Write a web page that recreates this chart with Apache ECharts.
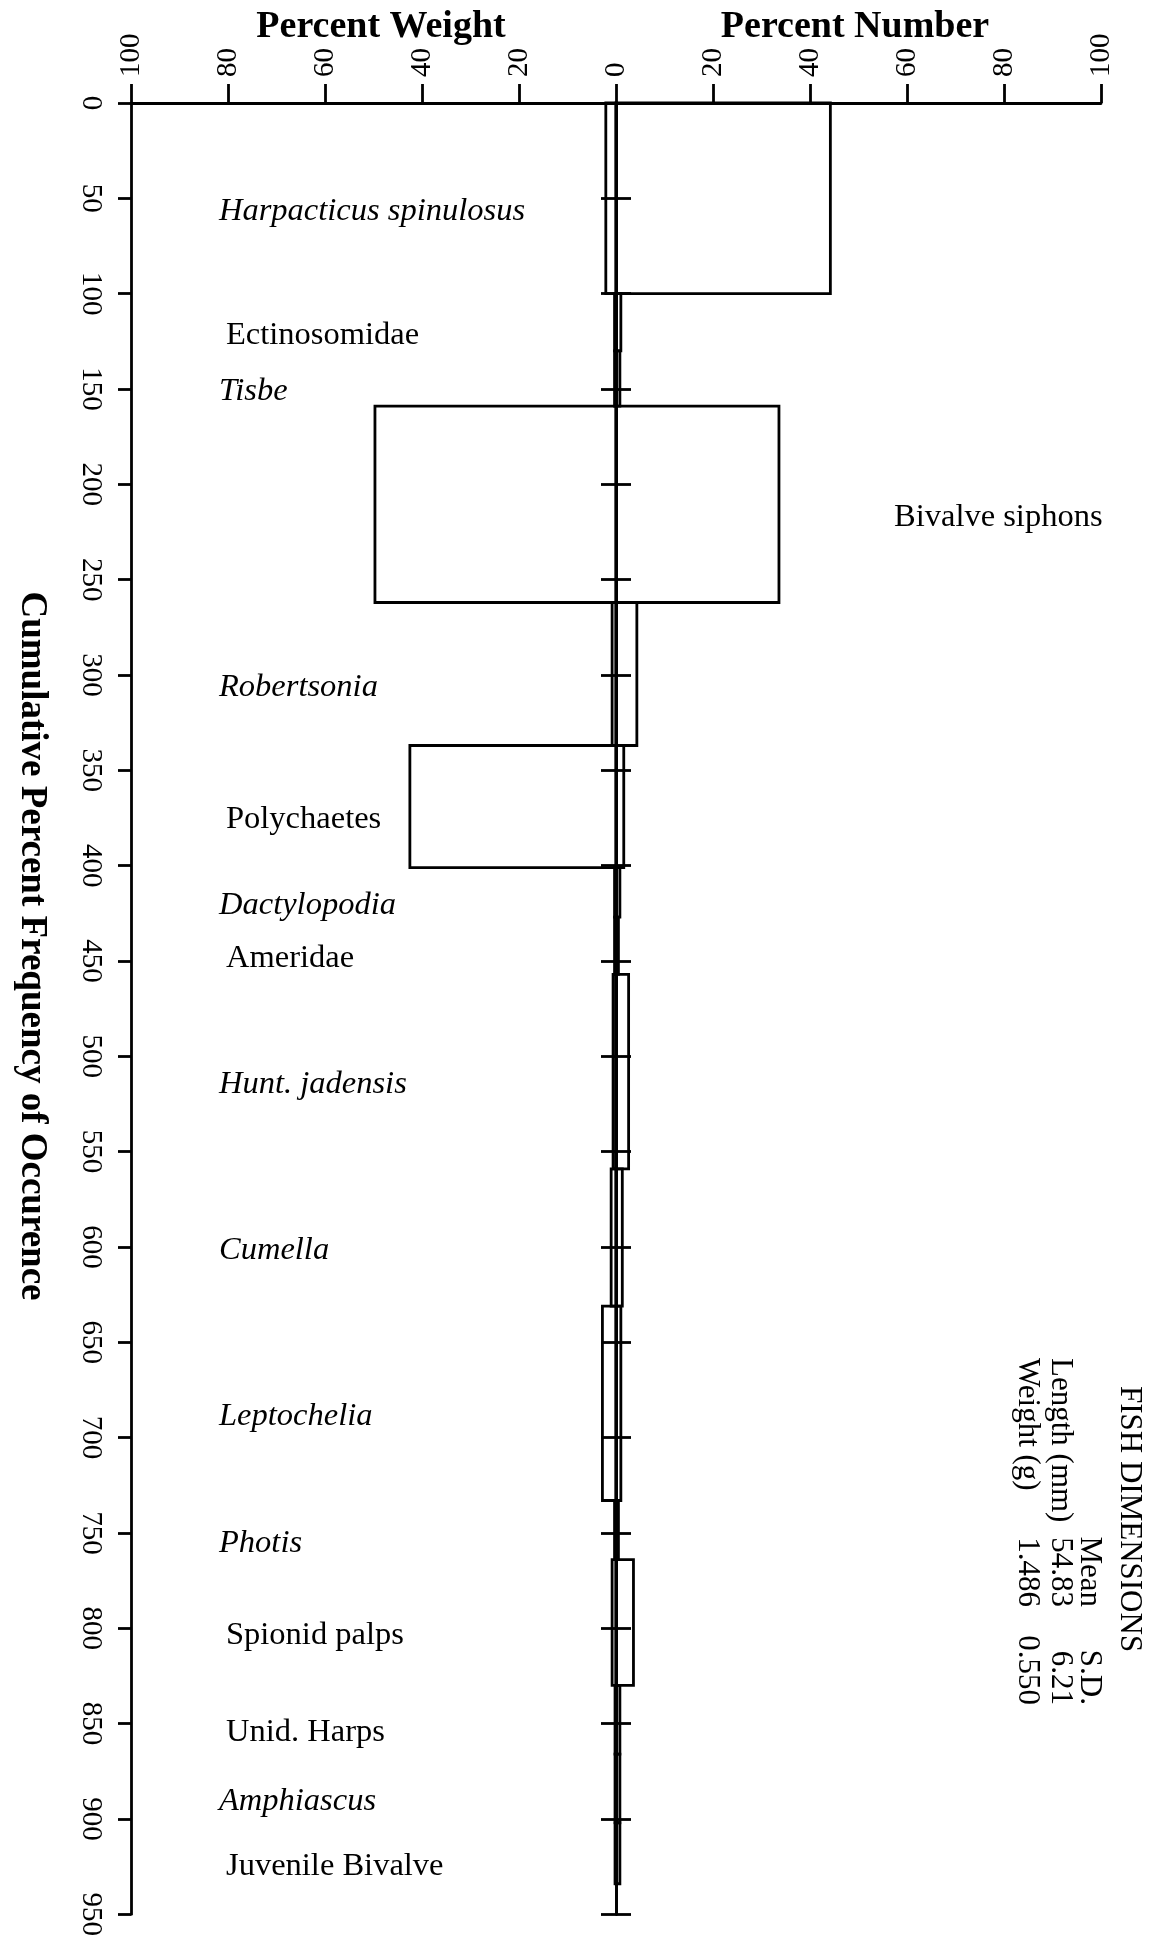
<!DOCTYPE html>
<html>
<head>
<meta charset="utf-8">
<script src="https://cdn.jsdelivr.net/npm/echarts@6/dist/echarts.min.js"></script>
<style>
html,body{margin:0;padding:0;background:#fff;}
#chart{width:1157px;height:1939px;}
</style>
</head>
<body>
<div id="chart"></div>
<script>
// ---- data ----
const prey = ["Harpacticus spinulosus","Ectinosomidae","Tisbe","Bivalve siphons","Robertsonia","Polychaetes",
  "Dactylopodia","Ameridae","Hunt. jadensis","Cumella","Leptochelia","Photis","Spionid palps","Unid. Harps",
  "Amphiascus","Juvenile Bivalve"];
// cumulative percent frequency of occurrence at the end of each prey block
const freqEnd = [100,130,159,262,337,401,427,457,559,631,733,764,830,866,902,934];
const pctWeight = [2.1,0.3,0.3,49.7,0.8,42.5,0.3,0.3,0.6,1.0,2.8,0.3,0.8,0.2,0.2,0.2];
const pctNumber = [44.2,1.0,0.8,33.6,4.3,1.6,0.8,0.5,2.6,1.3,1.0,0.5,3.6,0.8,0.8,0.8];
const italicPrey = ["Harpacticus spinulosus","Tisbe","Robertsonia","Dactylopodia","Hunt. jadensis","Cumella",
  "Leptochelia","Photis","Amphiascus"];
const rightLabelPrey = ["Bivalve siphons"];
const xTicks = {min:-100,max:100,interval:20};
const yTicks = {min:0,max:950,interval:50};
const fishDims = {header:"FISH DIMENSIONS", cols:["","Mean","S.D."],
  rows:[["Length (mm)","54.83","6.21"],["Weight (g)","1.486","0.550"]]};

const freqStart = [0].concat(freqEnd.slice(0,-1));
const seriesData = prey.map((p,i)=>[freqStart[i],freqEnd[i],pctWeight[i],pctNumber[i]]);

const SERIF = '"Liberation Serif","DejaVu Serif",serif';
const LW = 2.8;

const chart = echarts.init(document.getElementById('chart'), null, {renderer:'canvas'});

const axisStyle = {color:'#000', width:LW};
const yBase = {type:'value', min:yTicks.min, max:yTicks.max, interval:yTicks.interval, inverse:true, splitLine:{show:false}};

const option = {
  backgroundColor:'#fff',
  animation:false,
  grid:{left:131, right:56, top:103, bottom:17, containLabel:false},
  xAxis:{type:'value', position:'top', min:xTicks.min, max:xTicks.max, interval:xTicks.interval,
    axisLine:{show:true, onZero:false, lineStyle:axisStyle},
    axisTick:{show:true, length:19, lineStyle:axisStyle},
    axisLabel:{rotate:-90, margin:26, color:'#000', fontFamily:SERIF, fontSize:29,
      formatter:v=>String(Math.abs(v))},
    splitLine:{show:false}},
  yAxis:[
    Object.assign({}, yBase, {position:'left',
      axisLine:{show:true, onZero:false, lineStyle:axisStyle},
      axisTick:{show:true, length:13, lineStyle:axisStyle},
      axisLabel:{rotate:-90, margin:26, color:'#000', fontFamily:SERIF, fontSize:29}}),
    Object.assign({}, yBase, {position:'left',
      axisLine:{show:true, onZero:true, onZeroAxisIndex:0, lineStyle:axisStyle},
      axisTick:{show:true, length:15, lineStyle:axisStyle},
      axisLabel:{show:false}}),
    Object.assign({}, yBase, {position:'right',
      axisLine:{show:true, onZero:true, onZeroAxisIndex:0, lineStyle:axisStyle},
      axisTick:{show:true, length:15, lineStyle:axisStyle},
      axisLabel:{show:false}})
  ],
  series:[{
    type:'custom',
    xAxisIndex:0, yAxisIndex:0,
    data:seriesData,
    clip:false,
    renderItem:function(params, api){
      const i = params.dataIndex;
      const s = api.value(0), e = api.value(1), w = api.value(2), n = api.value(3);
      const a = api.coord([-w, s]);
      const z0 = api.coord([0, s]);
      const z1 = api.coord([0, e]);
      const b = api.coord([n, e]);
      const name = prey[i];
      const ital = italicPrey.indexOf(name) >= 0;
      const right = rightLabelPrey.indexOf(name) >= 0;
      const midY = (z0[1] + z1[1]) / 2 + 13;
      const rectStyle = {fill:null, stroke:'#000', lineWidth:LW};
      return {type:'group', children:[
        {type:'rect', shape:{x:a[0], y:a[1], width:z1[0]-a[0], height:z1[1]-a[1]}, style:rectStyle},
        {type:'rect', shape:{x:z0[0], y:z0[1], width:b[0]-z0[0], height:b[1]-z0[1]}, style:rectStyle},
        {type:'text', x: right ? 894 : (ital ? 219 : 226), y: midY,
          style:{text:name, fill:'#000', font:(ital?'italic ':'') + '32.5px ' + SERIF,
            align:'left', verticalAlign:'middle'}}
      ]};
    }
  }],
  graphic:[
    {type:'text', x:381, y:27, style:{text:'Percent Weight', font:'bold 38px '+SERIF, fill:'#000', align:'center', verticalAlign:'middle'}},
    {type:'text', x:855, y:27, style:{text:'Percent Number', font:'bold 38px '+SERIF, fill:'#000', align:'center', verticalAlign:'middle'}},
    {type:'text', x:32, y:946, rotation:-Math.PI/2, style:{text:'Cumulative Percent Frequency of Occurence', font:'bold 37px '+SERIF, fill:'#000', align:'center', verticalAlign:'middle'}},
    {type:'text', x:1129, y:1386, rotation:-Math.PI/2, style:{text:fishDims.header, font:'31px '+SERIF, fill:'#000', align:'left', verticalAlign:'middle'}},
    {type:'text', x:1089, y:1607, rotation:-Math.PI/2, style:{text:fishDims.cols[1], font:'31px '+SERIF, fill:'#000', align:'right', verticalAlign:'middle'}},
    {type:'text', x:1089, y:1705, rotation:-Math.PI/2, style:{text:fishDims.cols[2], font:'31px '+SERIF, fill:'#000', align:'right', verticalAlign:'middle'}},
    {type:'text', x:1060, y:1358, rotation:-Math.PI/2, style:{text:fishDims.rows[0][0], font:'31px '+SERIF, fill:'#000', align:'left', verticalAlign:'middle'}},
    {type:'text', x:1060, y:1607, rotation:-Math.PI/2, style:{text:fishDims.rows[0][1], font:'31px '+SERIF, fill:'#000', align:'right', verticalAlign:'middle'}},
    {type:'text', x:1060, y:1705, rotation:-Math.PI/2, style:{text:fishDims.rows[0][2], font:'31px '+SERIF, fill:'#000', align:'right', verticalAlign:'middle'}},
    {type:'text', x:1027, y:1358, rotation:-Math.PI/2, style:{text:fishDims.rows[1][0], font:'31px '+SERIF, fill:'#000', align:'left', verticalAlign:'middle'}},
    {type:'text', x:1027, y:1607, rotation:-Math.PI/2, style:{text:fishDims.rows[1][1], font:'31px '+SERIF, fill:'#000', align:'right', verticalAlign:'middle'}},
    {type:'text', x:1027, y:1705, rotation:-Math.PI/2, style:{text:fishDims.rows[1][2], font:'31px '+SERIF, fill:'#000', align:'right', verticalAlign:'middle'}}
  ]
};
chart.setOption(option);
</script>
</body>
</html>
